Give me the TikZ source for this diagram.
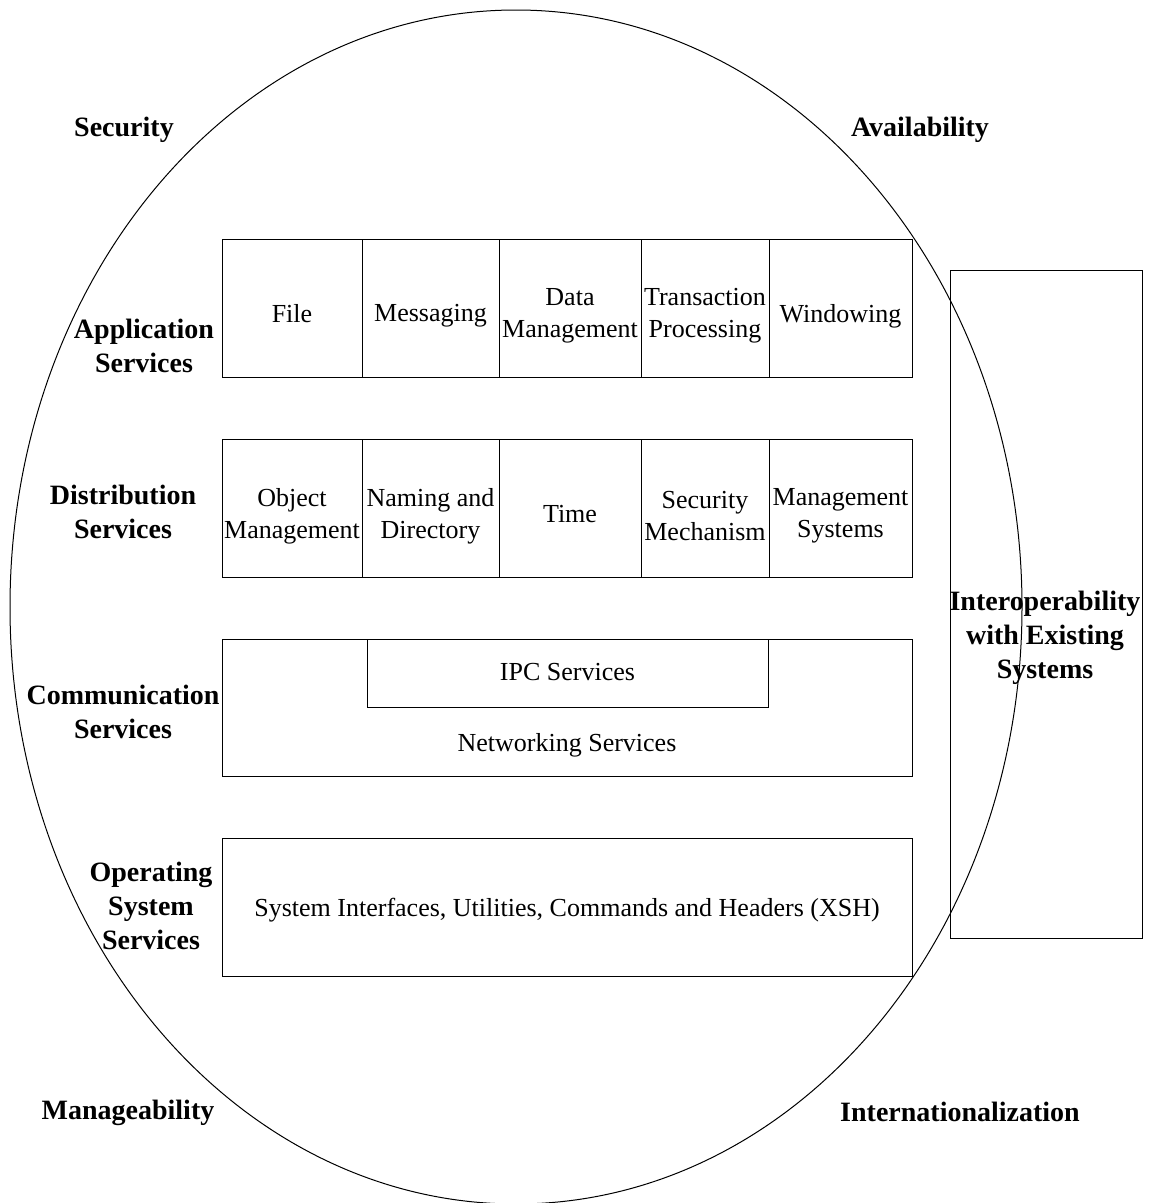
\documentclass[tikz,border=0pt]{standalone}
\usepackage{fontspec}
\setmainfont{Liberation Serif}
\begin{document}
\begin{tikzpicture}[x=1pt,y=-1pt, line width=1pt,
  cell/.style={draw, inner sep=0pt, outer sep=0pt},
  txt/.style={font=\fontsize{26}{32}\selectfont, align=center, inner sep=0pt},
  lbl/.style={font=\fontsize{28}{34}\selectfont\bfseries, align=center, inner sep=0pt}]
\useasboundingbox (0,0) rectangle (1154,1203);
\draw (516,607) ellipse [x radius=506pt, y radius=597pt];

% Application services row
\node[cell, minimum width=140pt, minimum height=138pt] (a1) at (292,308) {};
\node[cell, minimum width=137pt, minimum height=138pt] (a2) at (430.5,308) {};
\node[cell, minimum width=142pt, minimum height=138pt] (a3) at (570,308) {};
\node[cell, minimum width=128pt, minimum height=138pt] (a4) at (705,308) {};
\node[cell, minimum width=143pt, minimum height=138pt] (a5) at (840.5,308) {};
\node[txt] (ta1) at (292,314) {File};
\node[txt] (ta2) at (430.5,316) {Messaging};
\node[txt] (ta3) at (570,316) {Data\\Management};
\node[txt] (ta4) at (705,316) {Transaction\\Processing};
\node[txt] (ta5) at (840.5,316) {Windowing};

% Distribution services row
\node[cell, minimum width=140pt, minimum height=138pt] (d1) at (292,508) {};
\node[cell, minimum width=137pt, minimum height=138pt] (d2) at (430.5,508) {};
\node[cell, minimum width=142pt, minimum height=138pt] (d3) at (570,508) {};
\node[cell, minimum width=128pt, minimum height=138pt] (d4) at (705,508) {};
\node[cell, minimum width=143pt, minimum height=138pt] (d5) at (840.5,508) {};
\node[txt] (td1) at (292,516) {Object\\Management};
\node[txt] (td2) at (430.5,516) {Naming and\\Directory};
\node[txt] (td3) at (570,514) {Time};
\node[txt] (td4) at (705,516) {Security\\Mechanism};
\node[txt] (td5) at (840.5,516) {Management\\Systems};

% Communication services
\node[cell, minimum width=690pt, minimum height=137pt] (comm) at (567,707.5) {};
\node[cell, minimum width=401pt, minimum height=68pt] (ipc) at (567.5,673) {};
\node[txt] (tipc) at (567.5,672) {IPC Services};
\node[txt] (tnet) at (567,745) {Networking Services};

% Operating system services
\node[cell, minimum width=690pt, minimum height=138pt] (os) at (567,907) {};
\node[txt] (tos) at (567,910) {System Interfaces, Utilities, Commands and Headers (XSH)};

% Interoperability
\node[cell, minimum width=192pt, minimum height=668pt] (interop) at (1046,604) {};
\node[lbl] (tinterop) at (1045,638) {Interoperability\\with Existing\\Systems};

% Side labels
\node[lbl] (lapp) at (144,346) {Application\\Services};
\node[lbl] (ldist) at (123,512) {Distribution\\Services};
\node[lbl] (lcomm) at (123,712) {Communication\\Services};
\node[lbl] (los) at (151,906) {Operating\\System\\Services};

% Corner labels
\node[lbl] (lsec) at (124,130) {Security};
\node[lbl] (lavail) at (920,130) {Availability};
\node[lbl] (lman) at (128,1113) {Manageability};
\node[lbl] (lint) at (960,1112) {Internationalization};
\end{tikzpicture}
\end{document}
